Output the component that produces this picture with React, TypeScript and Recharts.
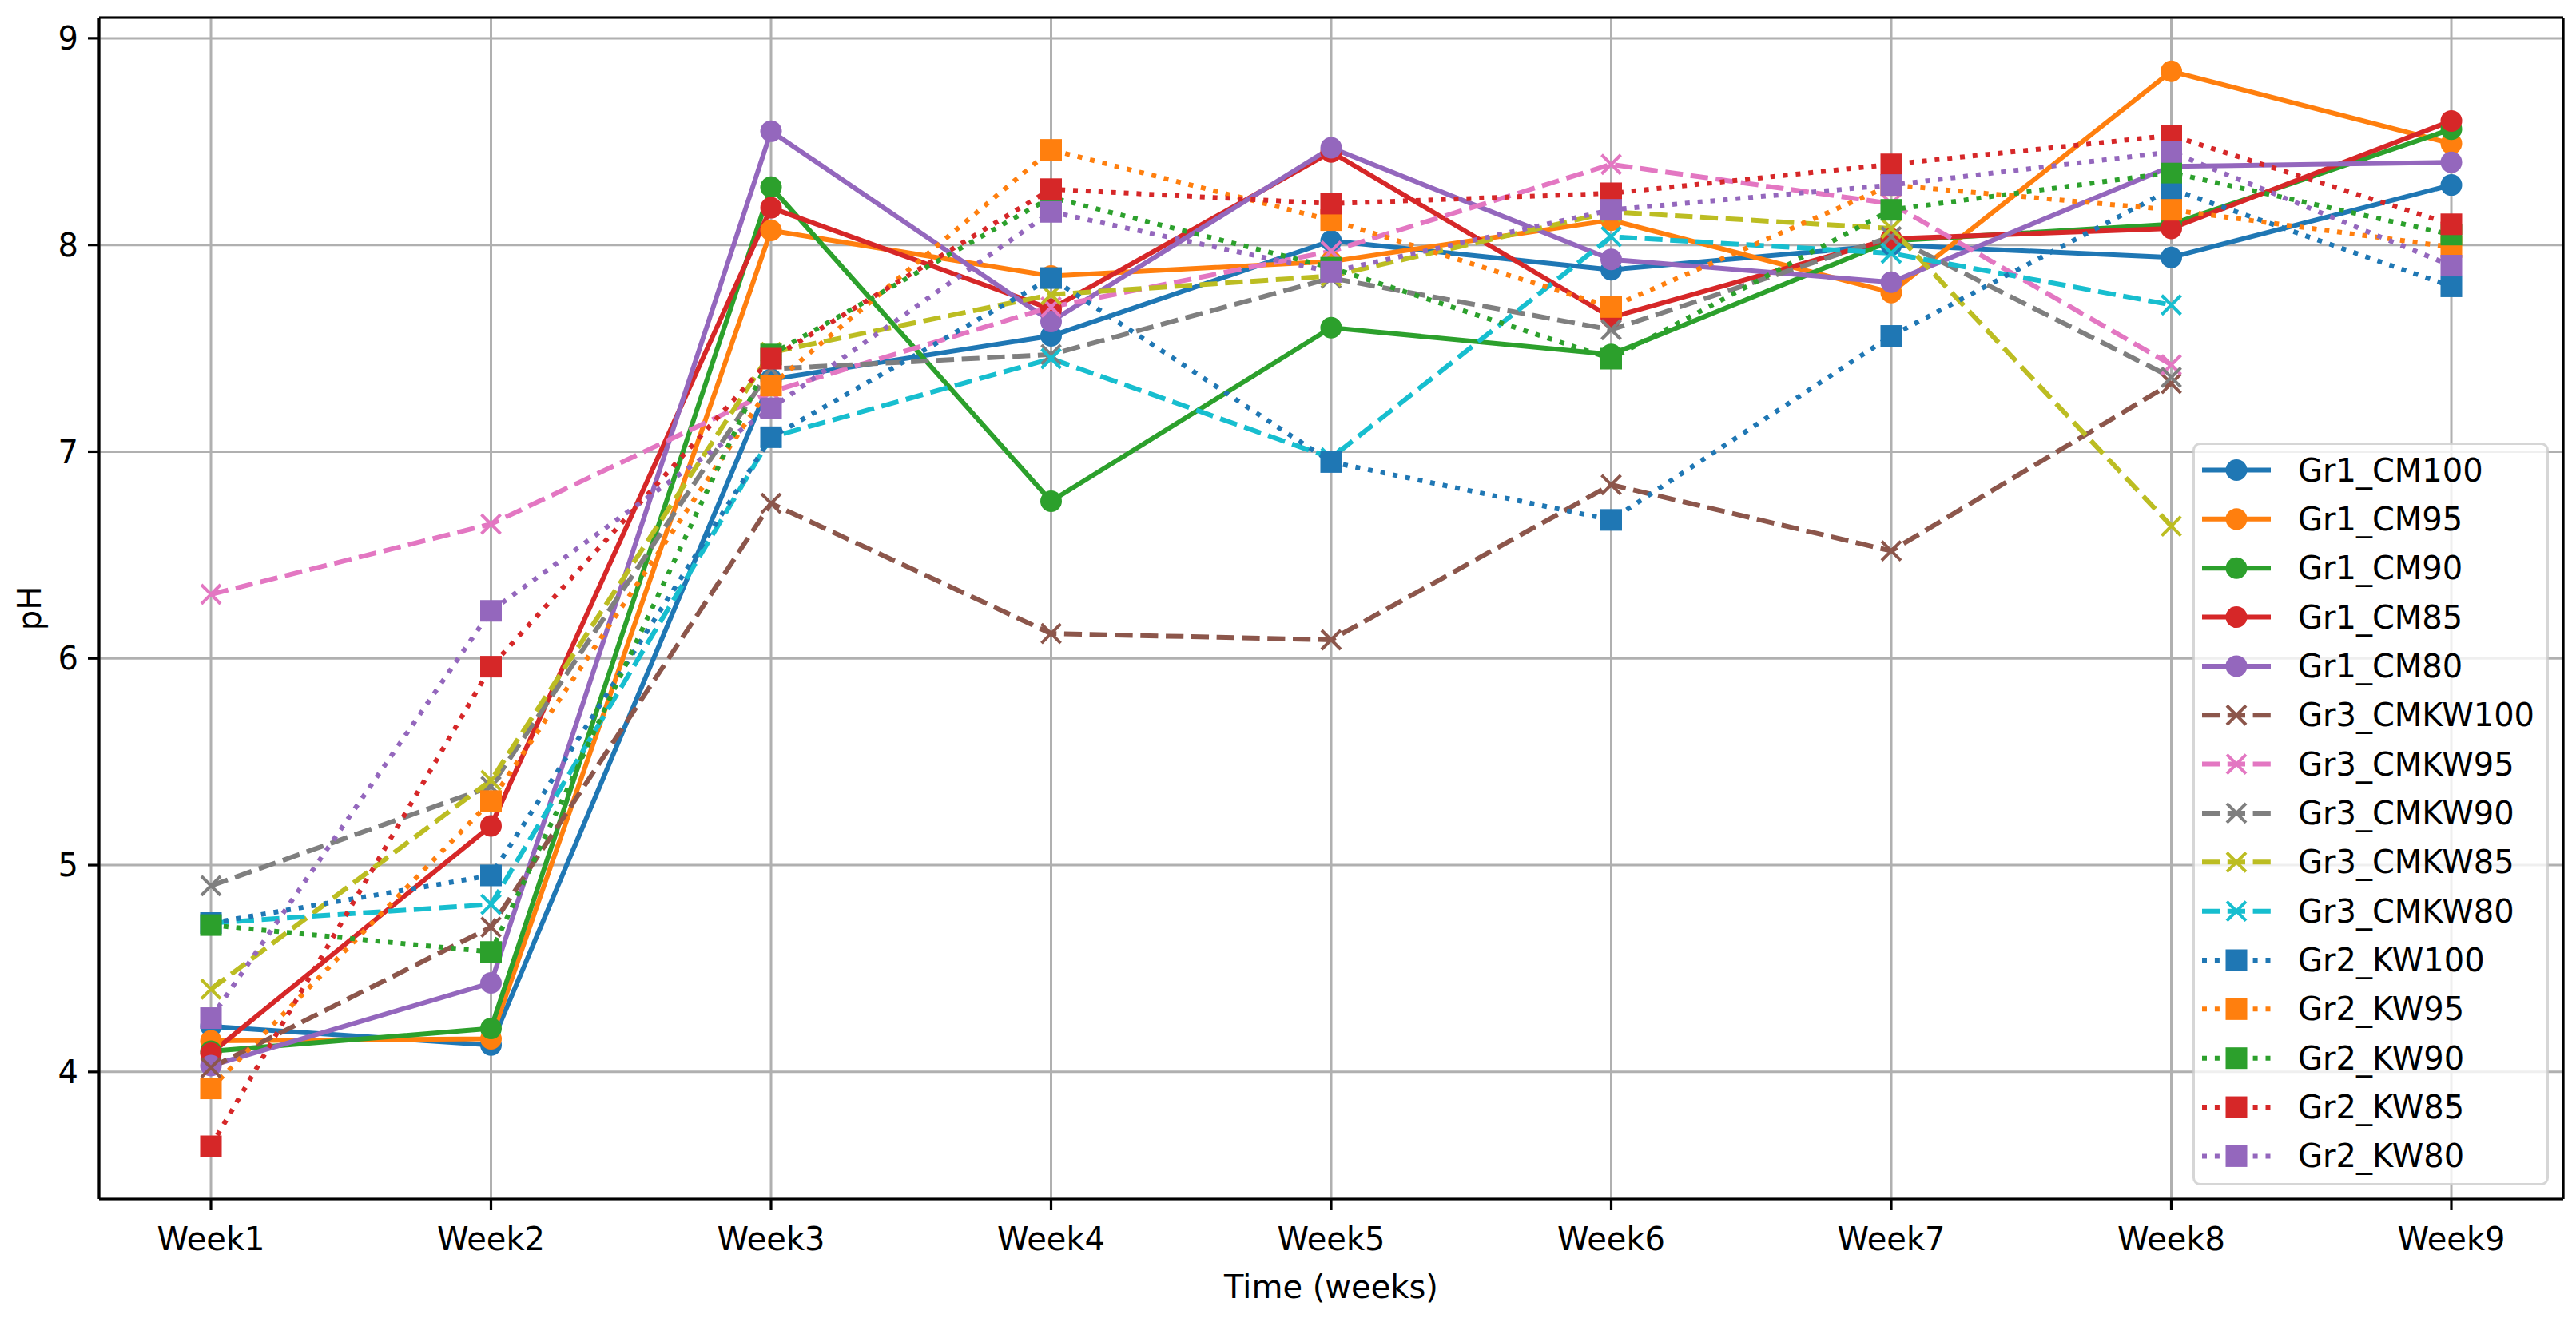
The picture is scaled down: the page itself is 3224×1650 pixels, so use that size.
import React from 'react';
import { LineChart, Line, XAxis, YAxis, CartesianGrid, Legend, Label } from 'recharts';

const FONT = 'DejaVu Sans';
const W = 3224;
const H = 1650;

const weeks = ['Week1', 'Week2', 'Week3', 'Week4', 'Week5', 'Week6', 'Week7', 'Week8', 'Week9'];
const yTicks = [4, 5, 6, 7, 8, 9];

const gr1CM100 = [4.22, 4.13, 7.35, 7.56, 8.02, 7.88, 8.0, 7.94, 8.29];
const gr1CM95 = [4.15, 4.16, 8.07, 7.85, 7.92, 8.12, 7.77, 8.84, 8.49];
const gr1CM90 = [4.1, 4.21, 8.28, 6.76, 7.6, 7.47, 8.02, 8.1, 8.56];
const gr1CM85 = [4.09, 5.19, 8.18, 7.69, 8.45, 7.65, 8.03, 8.08, 8.6];
const gr1CM80 = [4.03, 4.43, 8.55, 7.63, 8.47, 7.93, 7.82, 8.38, 8.4];
const gr3CMKW100 = [4.02, 4.7, 6.75, 6.12, 6.09, 6.84, 6.52, 7.33, null];
const gr3CMKW95 = [6.31, 6.65, 7.29, 7.7, 7.97, 8.39, 8.2, 7.42, null];
const gr3CMKW90 = [4.9, 5.38, 7.4, 7.47, 7.84, 7.59, 8.04, 7.36, null];
const gr3CMKW85 = [4.4, 5.41, 7.48, 7.76, 7.85, 8.16, 8.08, 6.64, null];
const gr3CMKW80 = [4.72, 4.81, 7.07, 7.45, 6.97, 8.04, 7.96, 7.71, null];
const gr2KW100 = [4.72, 4.95, 7.07, 7.84, 6.95, 6.67, 7.56, 8.27, 7.8];
const gr2KW95 = [3.92, 5.31, 7.32, 8.46, 8.12, 7.7, 8.29, 8.17, 7.99];
const gr2KW90 = [4.71, 4.58, 7.47, 8.23, 7.89, 7.45, 8.17, 8.35, 8.05];
const gr2KW85 = [3.64, 5.96, 7.45, 8.27, 8.2, 8.25, 8.39, 8.53, 8.1];
const gr2KW80 = [4.26, 6.23, 7.21, 8.16, 7.87, 8.17, 8.29, 8.45, 7.9];

type Kind = 'solid' | 'dashed' | 'dotted';
type Mk = 'circle' | 'x' | 'square';
interface S { name: string; values: (number | null)[]; color: string; kind: Kind; marker: Mk }

const series: S[] = [
  { name: 'Gr1_CM100', values: gr1CM100, color: '#1f77b4', kind: 'solid', marker: 'circle' },
  { name: 'Gr1_CM95', values: gr1CM95, color: '#ff7f0e', kind: 'solid', marker: 'circle' },
  { name: 'Gr1_CM90', values: gr1CM90, color: '#2ca02c', kind: 'solid', marker: 'circle' },
  { name: 'Gr1_CM85', values: gr1CM85, color: '#d62728', kind: 'solid', marker: 'circle' },
  { name: 'Gr1_CM80', values: gr1CM80, color: '#9467bd', kind: 'solid', marker: 'circle' },
  { name: 'Gr3_CMKW100', values: gr3CMKW100, color: '#8c564b', kind: 'dashed', marker: 'x' },
  { name: 'Gr3_CMKW95', values: gr3CMKW95, color: '#e377c2', kind: 'dashed', marker: 'x' },
  { name: 'Gr3_CMKW90', values: gr3CMKW90, color: '#7f7f7f', kind: 'dashed', marker: 'x' },
  { name: 'Gr3_CMKW85', values: gr3CMKW85, color: '#bcbd22', kind: 'dashed', marker: 'x' },
  { name: 'Gr3_CMKW80', values: gr3CMKW80, color: '#17becf', kind: 'dashed', marker: 'x' },
  { name: 'Gr2_KW100', values: gr2KW100, color: '#1f77b4', kind: 'dotted', marker: 'square' },
  { name: 'Gr2_KW95', values: gr2KW95, color: '#ff7f0e', kind: 'dotted', marker: 'square' },
  { name: 'Gr2_KW90', values: gr2KW90, color: '#2ca02c', kind: 'dotted', marker: 'square' },
  { name: 'Gr2_KW85', values: gr2KW85, color: '#d62728', kind: 'dotted', marker: 'square' },
  { name: 'Gr2_KW80', values: gr2KW80, color: '#9467bd', kind: 'dotted', marker: 'square' },
];

const chartData = weeks.map((w, i) => {
  const row: Record<string, any> = { week: w };
  series.forEach((s) => { row[s.name] = s.values[i]; });
  return row;
});

const LW = 6;
const dashFor = (k: Kind) => (k === 'dashed' ? '22.2 9.6' : k === 'dotted' ? '6 9.9' : undefined);

function drawMarker(cx: number, cy: number, color: string, marker: Mk, key?: string) {
  if (marker === 'circle') return <circle key={key} cx={cx} cy={cy} r={13.5} fill={color} />;
  if (marker === 'square') return <rect key={key} x={cx - 13.5} y={cy - 13.5} width={27} height={27} fill={color} />;
  const h = 12;
  return (
    <path key={key} d={`M${cx - h},${cy - h}L${cx + h},${cy + h}M${cx - h},${cy + h}L${cx + h},${cy - h}`}
      stroke={color} strokeWidth={4} fill="none" />
  );
}

const LegendBox = () => {
  const boxW = 446;
  const boxH = 930;
  return (
    <svg width={boxW} height={boxH} style={{ display: 'block' }}>
      <rect x={1.5} y={1.5} width={boxW - 3} height={boxH - 3} rx={8} ry={8}
        fill="rgba(255,255,255,0.8)" stroke="rgba(204,204,204,0.8)" strokeWidth={3} />
      {series.map((s, i) => {
        const cy = 34.5 + i * 61.35;
        return (
          <g key={s.name}>
            <line x1={12} y1={cy} x2={98} y2={cy} stroke={s.color} strokeWidth={LW} strokeDasharray={dashFor(s.kind)} />
            {drawMarker(55, cy, s.color, s.marker)}
            <text x={132} y={cy} dominantBaseline="central" fontSize={40} fontFamily={FONT} fill="#000">{s.name}</text>
          </g>
        );
      })}
    </svg>
  );
};

const YLabel = (props: any) => {
  const vb = props.viewBox || {};
  const cx = 37;
  const cy = (vb.y ?? 22) + (vb.height ?? 1479) / 2;
  return (
    <text x={cx} y={cy} transform={`rotate(-90, ${cx}, ${cy})`} textAnchor="middle" dominantBaseline="central"
      fontSize={40} fontFamily={FONT} fill="#000">pH</text>
  );
};

const XLabel = (props: any) => {
  const vb = props.viewBox || {};
  const cx = (vb.x ?? 124) + (vb.width ?? 3084) / 2;
  return (
    <text x={cx} y={1611} textAnchor="middle" dominantBaseline="central" fontSize={40} fontFamily={FONT} fill="#000">
      Time (weeks)
    </text>
  );
};

const axisStroke = { stroke: '#000', strokeWidth: 3.2 };
const tickStyle = { fontSize: 40, fill: '#000', fontFamily: FONT };

export default function App() {
  return (
    <div style={{ width: W, height: H, background: '#fff', position: 'relative' }}>
      <style>{'html,body{margin:0;padding:0;background:#fff;overflow:hidden;}'}</style>
      <LineChart width={W} height={H} data={chartData} margin={{ top: 0, right: 0, bottom: 29, left: 0 }}
        style={{ fontFamily: FONT }}>
        <CartesianGrid stroke="#b0b0b0" strokeWidth={3} />
        <XAxis dataKey="week" interval={0} padding={{ left: 140, right: 140 }} height={120}
          tickSize={14} tickMargin={22} tick={tickStyle} axisLine={axisStroke} tickLine={axisStroke}>
          <Label content={XLabel} />
        </XAxis>
        <XAxis xAxisId="top" orientation="top" dataKey="week" height={22} padding={{ left: 140, right: 140 }}
          tick={false} tickLine={false} axisLine={axisStroke} />
        <YAxis type="number" domain={[3.385, 9.1]} allowDataOverflow ticks={yTicks} interval={0} width={124}
          tickSize={14} tickMargin={12} tick={tickStyle} axisLine={axisStroke} tickLine={axisStroke}>
          <Label content={YLabel} />
        </YAxis>
        <YAxis yAxisId="right" orientation="right" type="number" domain={[3.385, 9.1]} allowDataOverflow width={16}
          tick={false} tickLine={false} axisLine={axisStroke} />
        {series.map((s) => (
          <Line key={s.name} type="linear" dataKey={s.name} name={s.name} stroke={s.color} strokeWidth={LW}
            strokeDasharray={dashFor(s.kind)} strokeLinejoin="round" isAnimationActive={false} activeDot={false}
            connectNulls={false}
            dot={(p: any) => {
              const k = `${s.name}-${p.index}`;
              if (p.cx == null || p.cy == null || p.value == null) return <g key={k} />;
              return drawMarker(p.cx, p.cy, s.color, s.marker, k);
            }} />
        ))}
        <Legend layout="vertical" align="center" verticalAlign="middle" content={() => <LegendBox />}
          wrapperStyle={{ position: 'absolute', left: 2744, top: 554, width: 446, height: 930 }} />
      </LineChart>
    </div>
  );
}
